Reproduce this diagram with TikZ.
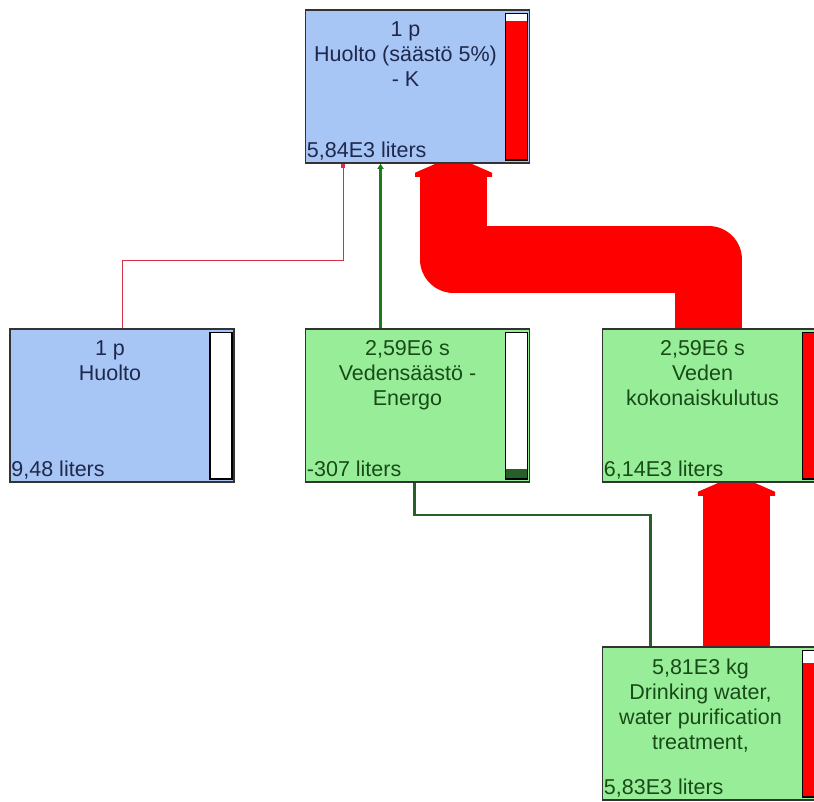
\documentclass[tikz,border=0pt]{standalone}
\usepackage{fontspec}
\setmainfont{Liberation Sans}
\usepackage{tikz}
\usetikzlibrary{positioning,calc,arrows.meta}

\definecolor{procblue}{RGB}{168,198,245}
\definecolor{procgreen}{RGB}{152,238,152}
\definecolor{textblue}{RGB}{30,40,75}
\definecolor{textgreen}{RGB}{25,75,25}
\definecolor{linkred}{RGB}{210,50,70}
\definecolor{linkgreen}{RGB}{25,125,25}
\definecolor{darkgreen}{RGB}{40,95,40}

\begin{document}
\begin{tikzpicture}[x=1pt,y=-1pt,
	process/.style={draw=black!80, line width=1.5pt, minimum width=224pt, minimum height=153pt, inner sep=0pt},
	title/.style={align=center, inner sep=0pt, font=\fontsize{21.5}{25}\selectfont},
	amount/.style={inner sep=0pt, anchor=base west, font=\fontsize{21.5}{25}\selectfont},
	meter/.style={draw=black, line width=1.5pt},
	pipe/.style={draw=red, line width=67pt, line join=round}]
	
	\useasboundingbox (0,0) rectangle (814,801);
	\clip (0,0) rectangle (814,801);
	\fill[white] (0,0) rectangle (814,801);
	
	% Processes
	\node[process, fill=procblue] (K) at (417.5,86.5) {};
	\node[process, fill=procblue] (huolto) at (122,405.5) {};
	\node[process, fill=procgreen] (saasto) at (417.5,405.5) {};
	\node[process, fill=procgreen] (kulutus) at (714.5,405.5) {};
	\node[process, fill=procgreen] (water) at (714.5,723.5) {};
	
	% Titles
	\node[title, text=textblue, below=12pt of K.north, xshift=-12pt] (Ktitle) {1 p\\Huolto (säästö 5\%)\\- K};
	\node[title, text=textblue, below=12pt of huolto.north, xshift=-12pt] (huoltotitle) {1 p\\Huolto};
	\node[title, text=textgreen, below=12pt of saasto.north, xshift=-10pt] (saastotitle) {2,59E6 s\\Vedensäästö -\\Energo};
	\node[title, text=textgreen, below=12pt of kulutus.north, xshift=-12pt] (kulutustitle) {2,59E6 s\\Veden\\kokonaiskulutus};
	\node[title, text=textgreen, below=12pt of water.north, xshift=-14pt] (watertitle) {5,81E3 kg\\Drinking water,\\water purification\\treatment,};
	
	% Amounts
	\node[amount, text=textblue] (Kval) at ($(K.south west)+(2,-6)$) {5,84E3 liters};
	\node[amount, text=textblue] (huoltoval) at ($(huolto.south west)+(2,-6)$) {9,48 liters};
	\node[amount, text=textgreen] (saastoval) at ($(saasto.south west)+(2,-6)$) {-307 liters};
	\node[amount, text=textgreen] (kulutusval) at ($(kulutus.south west)+(2,-6)$) {6,14E3 liters};
	\node[amount, text=textgreen] (waterval) at ($(water.south west)+(2,-6)$) {5,83E3 liters};
	
	% Meters
	\draw[meter, fill=white] ([xshift=-25pt,yshift=-4pt]K.north east) rectangle ([xshift=-3pt,yshift=4pt]K.south east);
	\fill[red] ([xshift=-24.25pt,yshift=-12pt]K.north east) rectangle ([xshift=-3.75pt,yshift=4.75pt]K.south east);
	\draw[meter, fill=white] ([xshift=-25pt,yshift=-4pt]huolto.north east) rectangle ([xshift=-3pt,yshift=4pt]huolto.south east);
	\draw[meter, fill=white] ([xshift=-25pt,yshift=-4pt]saasto.north east) rectangle ([xshift=-3pt,yshift=4pt]saasto.south east);
	\fill[darkgreen] ([xshift=-24.25pt,yshift=14pt]saasto.south east) rectangle ([xshift=-3.75pt,yshift=4.75pt]saasto.south east);
	\draw[meter, fill=red] ([xshift=-25pt,yshift=-4pt]kulutus.north east) rectangle ([xshift=-3pt,yshift=4pt]kulutus.south east);
	\draw[meter, fill=white] ([xshift=-25pt,yshift=-4pt]water.north east) rectangle ([xshift=-3pt,yshift=4pt]water.south east);
	\fill[red] ([xshift=-24.25pt,yshift=-17pt]water.north east) rectangle ([xshift=-3.75pt,yshift=4.75pt]water.south east);
	
	% Thin links
	\draw[linkred, line width=1pt, -{Square[length=4pt,width=4pt]}] (huolto.north) -- ++(0,-68) -| ([xshift=-74.5pt]K.south);
	\draw[linkgreen, line width=2.5pt, -{Triangle[length=5pt,width=6pt]}] ([xshift=-37pt]saasto.north) -- ([xshift=-37pt]K.south);
	\draw[darkgreen, line width=2.5pt] ([xshift=-3pt]saasto.south) -- ++(0,32) -| ([xshift=-64pt]water.north);
	
	% Pipes
	\draw[pipe] ([xshift=-6pt]kulutus.north) -- ++(0,-69) -| ([xshift=36pt,yshift=-10pt]K.south);
	\fill[red] ([xshift=36pt]K.south) ++(-18,0) -- ++(36,0) -- ++(20.5,9) -- ++(0,4) -- ++(-77,0) -- ++(0,-4) -- cycle;
	\draw[pipe] ([xshift=22pt]water.north) -- ([xshift=22pt,yshift=-10pt]kulutus.south);
	\fill[red] ([xshift=22pt]kulutus.south) ++(-18,0) -- ++(36,0) -- ++(20.5,9) -- ++(0,4) -- ++(-77,0) -- ++(0,-4) -- cycle;
\end{tikzpicture}
\end{document}
